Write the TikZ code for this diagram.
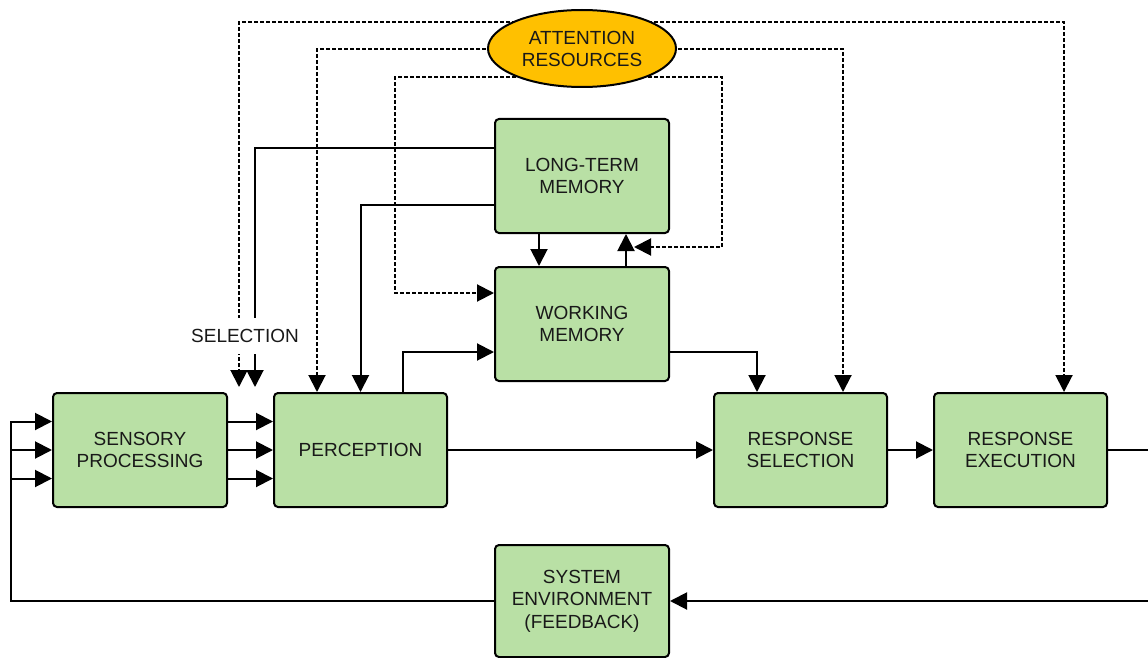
\documentclass[tikz,border=0pt]{standalone}
\usepackage{fontspec}
\setmainfont{Liberation Sans}
\usetikzlibrary{arrows.meta,shapes.geometric,backgrounds}
\definecolor{boxgreen}{RGB}{185,224,165}
\definecolor{attorange}{RGB}{255,192,0}
\definecolor{txt}{RGB}{25,25,25}
\tikzset{
  blk/.style={draw=black, fill=boxgreen, rounded corners=4pt, line width=2pt, inner sep=0pt,
    minimum width=174pt, minimum height=114pt, align=center, text=txt,
    font=\fontsize{19}{22.5}\selectfont},
  att/.style={ellipse, draw=black, fill=attorange, line width=2pt, inner sep=0pt,
    minimum width=188pt, minimum height=77pt, align=center, text=txt,
    font=\fontsize{19}{22}\selectfont},
  lbl/.style={fill=white, inner xsep=1pt, inner ysep=11pt, text=txt, font=\fontsize{19}{22}\selectfont},
  tip/.tip={Triangle[length=17pt 0 0,width=17pt 0 0]},
  conn/.style={draw=black, line width=2pt},
  arr/.style={conn, -tip},
  darr/.style={draw=black, line width=2pt, dash pattern=on 4pt off 2pt, -tip}
}
\begin{document}
\begin{tikzpicture}[x=1pt,y=-1pt]
\useasboundingbox (0,0) rectangle (1148,658);

% nodes
\node[att] (att) at (582,48.5) {ATTENTION\\RESOURCES};
\node[blk] (ltm) at (582,176) {LONG-TERM\\MEMORY};
\node[blk] (wm) at (582,324) {WORKING\\MEMORY};
\node[blk, minimum width=174pt] (sp) at (140,450) {SENSORY\\PROCESSING};
\node[blk, minimum width=173pt] (per) at (360.5,450) {PERCEPTION};
\node[blk, minimum width=173pt] (rs) at (800.5,450) {RESPONSE\\SELECTION};
\node[blk, minimum width=173pt] (re) at (1020.5,450) {RESPONSE\\EXECUTION};
\node[blk, minimum height=112pt] (se) at (582,601) {SYSTEM\\ENVIRONMENT\\(FEEDBACK)};

% helper coordinates
\coordinate (selD) at (239,387);
\coordinate (selS) at (255,387);
\coordinate (innL) at (395,293);
\coordinate (innR) at (722,247);
\coordinate (innTip) at (634,247);
\coordinate (fbL) at (11,600);
\coordinate (fbR) at (1150,450);
\coordinate (s1) at ([yshift=28.5pt]sp.west);
\coordinate (s3) at ([yshift=-28.5pt]sp.west);
\coordinate (up) at ([xshift=44pt]wm.north);

% dashed attention connectors (behind the ellipse)
\begin{scope}[on background layer]
\draw[darr] ([yshift=26.5pt]att.center) -| (selD);
\draw[darr] ([yshift=26.5pt]att.center) -| ([xshift=43.5pt]re.north);
\draw[darr] ([yshift=-0.5pt]att.center) -| ([xshift=-43.5pt]per.north);
\draw[darr] ([yshift=-0.5pt]att.center) -| ([xshift=42.5pt]rs.north);
\draw[darr] ([yshift=-28.5pt]att.center) -| (innL) -- (innL -| wm.west);
\draw[darr] ([yshift=-28.5pt]att.center) -| (innR) -- (innTip);
\end{scope}

% long-term memory connections
\draw[arr] ([yshift=28pt]ltm.west) -| (selS);
\draw[arr] ([yshift=-29pt]ltm.west) -| (per.north);
\draw[arr] ([xshift=-43pt]ltm.south) -- ([xshift=-43pt]wm.north);
\draw[arr] (up) -- (up |- ltm.south);

% working memory connections
\draw[arr] ([xshift=42.5pt]per.north) |- ([yshift=-28pt]wm.west);
\draw[arr] ([yshift=-28pt]wm.east) -| ([xshift=-43.5pt]rs.north);

% main chain
\draw[arr] ([yshift=28.5pt]sp.east) -- ([yshift=28.5pt]per.west);
\draw[arr] (sp.east) -- (per.west);
\draw[arr] ([yshift=-28.5pt]sp.east) -- ([yshift=-28.5pt]per.west);
\draw[arr] (per.east) -- (rs.west);
\draw[arr] (rs.east) -- (re.west);

% feedback loop
\draw[arr] (re.east) -- (fbR) |- (se.east);
\draw[arr] (se.west) -| (fbL) |- (s1);
\draw[arr] (fbL |- sp.west) -- (sp.west);
\draw[arr] (fbL |- s3) -- (s3);

% selection label
\node[lbl] (sel) at (245,336) {SELECTION};
\end{tikzpicture}
\end{document}
